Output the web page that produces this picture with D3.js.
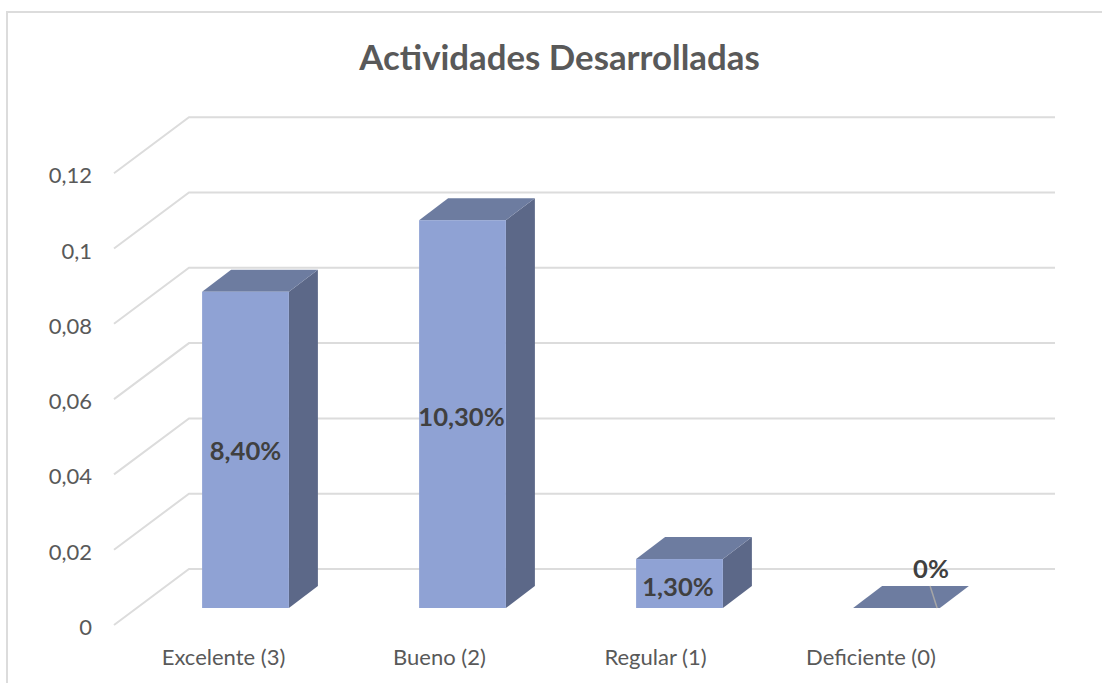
<!DOCTYPE html>
<html><head><meta charset="utf-8">
<script src="https://cdn.jsdelivr.net/npm/d3@7/dist/d3.min.js"></script>
<style>html,body{margin:0;padding:0;background:#fff}svg{display:block}text{font-family:Lato,"Open Sans",sans-serif}</style>
</head><body><svg id="c" width="1102" height="683"></svg>
<script>
const categories = ["Excelente (3)", "Bueno (2)", "Regular (1)", "Deficiente (0)"];
const values = [0.084, 0.103, 0.013, 0];
const valueLabels = ["8,40%", "10,30%", "1,30%", "0%"];
const yTicks = [0, 0.02, 0.04, 0.06, 0.08, 0.1, 0.12];
const yTickLabels = ["0", "0,02", "0,04", "0,06", "0,08", "0,1", "0,12"];
const titleText = "Actividades Desarrolladas";

const svg = d3.select("#c");
const depthX = 75, depthY = -56;
const barDX = 29, barDY = -22;
const frontBase = 625;
const barBase = 608;
const y = d3.scaleLinear().domain([0, 0.12]).range([frontBase, frontBase - 0.12 * 3765]);
const barY = d3.scaleLinear().domain([0, 0.12]).range([barBase, barBase - 0.12 * 3765]);
const x = d3.scaleBand().domain(categories).range([137, 1005]).paddingInner(0.6).paddingOuter(0.3);

// frame: left and top only are visible in the picture
svg.append("path").attr("d", "M7 683V12H1102").attr("fill", "none").attr("stroke", "#dcdcdc").attr("stroke-width", 2);

// title
svg.append("text").attr("x", 559.5).attr("y", 70).attr("text-anchor", "middle")
  .attr("font-size", 34.8).attr("font-weight", 700).attr("fill", "#595959").text(titleText);

// gridlines
const grid = svg.append("g").attr("fill", "none").attr("stroke", "#dcdcdc").attr("stroke-width", 2);
yTicks.forEach(t => {
  grid.append("path").attr("d", d3.line()([[114, y(t)], [114 + depthX, y(t) + depthY], [1055, y(t) + depthY]]));
});

// y labels
svg.append("g").selectAll("text").data(yTicks).join("text")
  .attr("x", 92).attr("y", d => y(d) + 10).attr("text-anchor", "end")
  .attr("font-size", 22).attr("fill", "#595959").text((d, i) => yTickLabels[i]);

// bars
const bars = svg.append("g").selectAll("g").data(categories).join("g");
bars.each(function (c, i) {
  const g = d3.select(this);
  const x0 = x(c), w = x.bandwidth(), top = barY(values[i]);
  const line = d3.line();
  g.append("path").attr("fill", "#5c6888").attr("d", line([[x0 + w, top], [x0 + w + barDX, top + barDY], [x0 + w + barDX, barBase + barDY], [x0 + w, barBase]]) + "Z");
  g.append("path").attr("fill", "#6d7ca0").attr("d", line([[x0, top], [x0 + barDX, top + barDY], [x0 + w + barDX, top + barDY], [x0 + w, top]]) + "Z");
  if (values[i] > 0) g.append("rect").attr("x", x0).attr("y", top).attr("width", w).attr("height", barBase - top).attr("fill", "#8fa2d4");
});

// leader line for the zero-value label
const lastX = x(categories[3]);
svg.append("line").attr("x1", lastX + 77).attr("y1", barBase - 22).attr("x2", lastX + 84).attr("y2", barBase)
  .attr("stroke", "#a6a6a6").attr("stroke-width", 1.5);

// data labels
const labelPos = [[245.5, 460], [461.5, 426], [678, 596], [931, 578]];
svg.append("g").selectAll("text").data(valueLabels).join("text")
  .attr("x", (d, i) => labelPos[i][0]).attr("y", (d, i) => labelPos[i][1]).attr("text-anchor", "middle")
  .attr("font-size", 25.6).attr("font-weight", 700).attr("fill", "#404040").text(d => d);

// category labels
const catX = [223.5, 439.5, 655.5, 871];
svg.append("g").selectAll("text").data(categories).join("text")
  .attr("x", (d, i) => catX[i]).attr("y", 665).attr("text-anchor", "middle")
  .attr("font-size", 22).attr("fill", "#595959").text(d => d);
</script></body></html>
